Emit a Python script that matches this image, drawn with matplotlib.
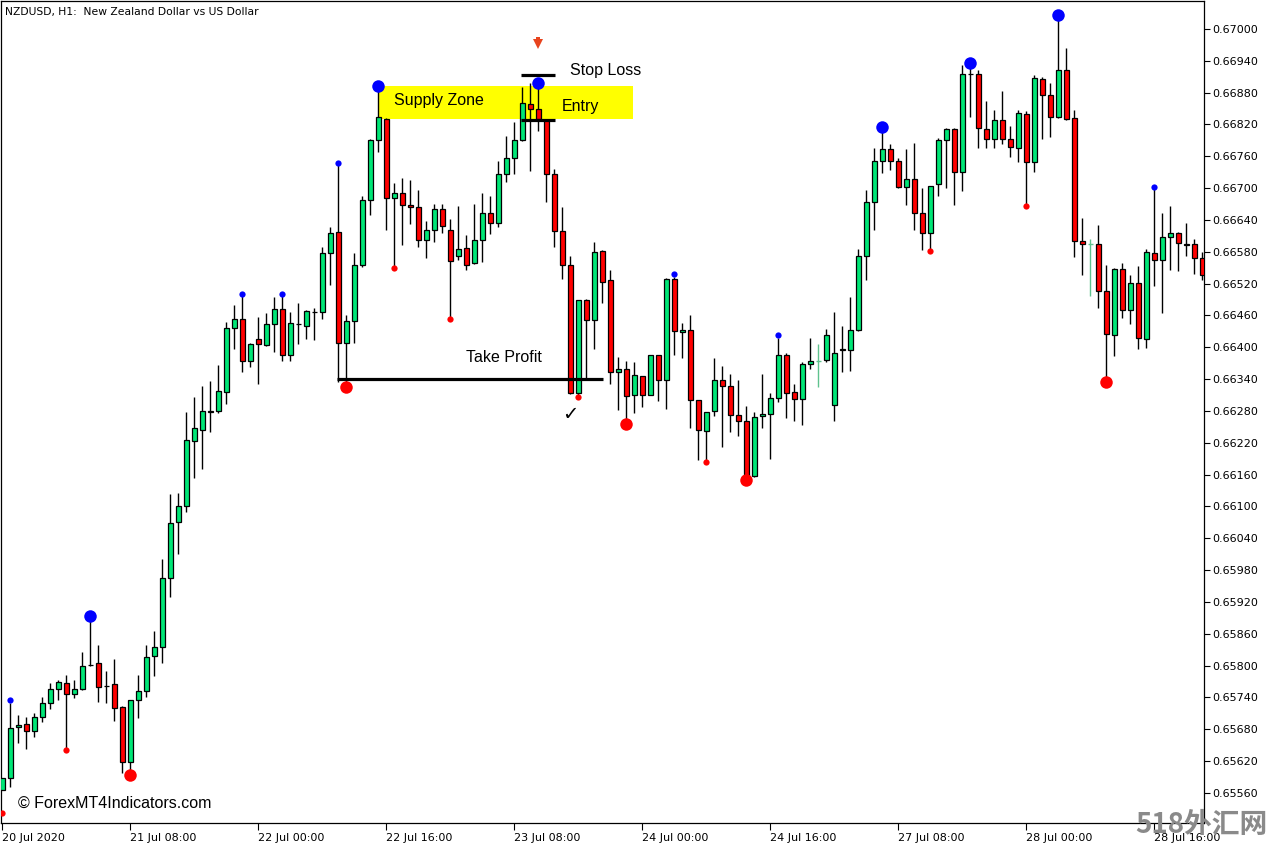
import numpy as np
import matplotlib
matplotlib.use('Agg')
import matplotlib.pyplot as plt

# NZDUSD H1 candles, one per hour (index 0 = 20 Jul 2020 00:00)
opens = [0.65566, 0.65588, 0.65684, 0.65689, 0.65676, 0.65704, 0.65729, 0.65755, 0.65767, 0.65746,
         0.65756, 0.65802, 0.65805, 0.65762, 0.65765, 0.65722, 0.65618, 0.65735, 0.65752, 0.65818,
         0.65835, 0.65965, 0.66070, 0.66100, 0.66223, 0.66245, 0.66279, 0.66279, 0.66315, 0.66436,
         0.66453, 0.66375, 0.66415, 0.66404, 0.66443, 0.66473, 0.66385, 0.66444, 0.66441, 0.66467,
         0.66466, 0.66577, 0.66617, 0.66408, 0.66449, 0.66556, 0.66677, 0.66790, 0.66831, 0.66681,
         0.66690, 0.66668, 0.66664, 0.66602, 0.66621, 0.66660, 0.66621, 0.66573, 0.66587, 0.66558,
         0.66602, 0.66653, 0.66634, 0.66726, 0.66756, 0.66790, 0.66858, 0.66849, 0.66828, 0.66726,
         0.66619, 0.66555, 0.66313, 0.66489, 0.66451, 0.66581, 0.66526, 0.66353, 0.66360, 0.66310,
         0.66345, 0.66311, 0.66385, 0.66338, 0.66528, 0.66428, 0.66432, 0.66300, 0.66242, 0.66279,
         0.66338, 0.66328, 0.66272, 0.66261, 0.66157, 0.66270, 0.66274, 0.66304, 0.66385, 0.66315,
         0.66302, 0.66368, 0.66375, 0.66377, 0.66291, 0.66396, 0.66394, 0.66432, 0.66572, 0.66673,
         0.66751, 0.66773, 0.66751, 0.66703, 0.66717, 0.66653, 0.66615, 0.66707, 0.66790, 0.66811,
         0.66730, 0.66916, 0.66915, 0.66811, 0.66792, 0.66828, 0.66792, 0.66775, 0.66839, 0.66749,
         0.66905, 0.66875, 0.66834, 0.66922, 0.66832, 0.66600, 0.66594, 0.66594, 0.66506, 0.66424,
         0.66547, 0.66470, 0.66522, 0.66415, 0.66577, 0.66564, 0.66607, 0.66615, 0.66594, 0.66594,
         0.66568]
highs = [0.65589, 0.65730, 0.65707, 0.65703, 0.65711, 0.65741, 0.65767, 0.65772, 0.65782, 0.65773,
         0.65826, 0.65886, 0.65839, 0.65790, 0.65812, 0.65723, 0.65736, 0.65782, 0.65839, 0.65865,
         0.66001, 0.66123, 0.66125, 0.66278, 0.66306, 0.66328, 0.66336, 0.66367, 0.66448, 0.66480,
         0.66497, 0.66409, 0.66457, 0.66465, 0.66494, 0.66497, 0.66466, 0.66483, 0.66470, 0.66475,
         0.66590, 0.66626, 0.66744, 0.66460, 0.66577, 0.66685, 0.66792, 0.66885, 0.66832, 0.66709,
         0.66719, 0.66715, 0.66696, 0.66639, 0.66670, 0.66670, 0.66641, 0.66666, 0.66611, 0.66670,
         0.66690, 0.66685, 0.66751, 0.66798, 0.66824, 0.66890, 0.66898, 0.66893, 0.66828, 0.66737,
         0.66664, 0.66573, 0.66489, 0.66492, 0.66598, 0.66583, 0.66545, 0.66381, 0.66374, 0.66372,
         0.66345, 0.66386, 0.66386, 0.66530, 0.66533, 0.66445, 0.66460, 0.66301, 0.66278, 0.66380,
         0.66365, 0.66350, 0.66338, 0.66289, 0.66278, 0.66349, 0.66313, 0.66418, 0.66389, 0.66330,
         0.66372, 0.66417, 0.66406, 0.66434, 0.66466, 0.66441, 0.66494, 0.66585, 0.66696, 0.66775,
         0.66808, 0.66783, 0.66756, 0.66773, 0.66785, 0.66700, 0.66705, 0.66794, 0.66813, 0.66813,
         0.66932, 0.66935, 0.66922, 0.66864, 0.66847, 0.66884, 0.66818, 0.66847, 0.66845, 0.66913,
         0.66910, 0.66898, 0.67017, 0.66964, 0.66847, 0.66643, 0.66604, 0.66630, 0.66555, 0.66549,
         0.66558, 0.66536, 0.66553, 0.66585, 0.66699, 0.66653, 0.66666, 0.66617, 0.66634, 0.66604,
         0.66579]
lows = [0.65565, 0.65571, 0.65655, 0.65642, 0.65666, 0.65694, 0.65718, 0.65735, 0.65645, 0.65738,
        0.65754, 0.65799, 0.65732, 0.65730, 0.65696, 0.65598, 0.65598, 0.65702, 0.65741, 0.65781,
        0.65804, 0.65930, 0.66011, 0.66090, 0.66154, 0.66171, 0.66240, 0.66277, 0.66294, 0.66396,
        0.66354, 0.66363, 0.66331, 0.66403, 0.66392, 0.66374, 0.66375, 0.66406, 0.66415, 0.66413,
        0.66453, 0.66517, 0.66335, 0.66333, 0.66408, 0.66551, 0.66649, 0.66769, 0.66622, 0.66553,
        0.66592, 0.66632, 0.66590, 0.66569, 0.66598, 0.66615, 0.66455, 0.66564, 0.66545, 0.66557,
        0.66560, 0.66613, 0.66626, 0.66711, 0.66726, 0.66789, 0.66732, 0.66807, 0.66673, 0.66590,
        0.66529, 0.66312, 0.66310, 0.66342, 0.66396, 0.66483, 0.66330, 0.66281, 0.66263, 0.66277,
        0.66287, 0.66310, 0.66299, 0.66284, 0.66386, 0.66380, 0.66247, 0.66188, 0.66188, 0.66270,
        0.66212, 0.66240, 0.66232, 0.66154, 0.66156, 0.66247, 0.66190, 0.66296, 0.66266, 0.66262,
        0.66253, 0.66360, 0.66326, 0.66372, 0.66262, 0.66353, 0.66355, 0.66430, 0.66526, 0.66621,
        0.66728, 0.66734, 0.66700, 0.66668, 0.66621, 0.66583, 0.66583, 0.66685, 0.66701, 0.66669,
        0.66695, 0.66835, 0.66776, 0.66776, 0.66776, 0.66783, 0.66758, 0.66749, 0.66668, 0.66730,
        0.66792, 0.66796, 0.66833, 0.66828, 0.66570, 0.66536, 0.66496, 0.66475, 0.66340, 0.66383,
        0.66455, 0.66443, 0.66396, 0.66398, 0.66515, 0.66464, 0.66545, 0.66543, 0.66573, 0.66538,
        0.66526]
closes = [0.65588, 0.65682, 0.65688, 0.65676, 0.65704, 0.65729, 0.65755, 0.65769, 0.65746, 0.65755,
          0.65799, 0.65801, 0.65759, 0.65761, 0.65721, 0.65618, 0.65735, 0.65752, 0.65816, 0.65835,
          0.65965, 0.66068, 0.66100, 0.66225, 0.66247, 0.66279, 0.66278, 0.66317, 0.66436, 0.66453,
          0.66375, 0.66406, 0.66406, 0.66443, 0.66472, 0.66385, 0.66445, 0.66443, 0.66468, 0.66466,
          0.66577, 0.66615, 0.66408, 0.66449, 0.66556, 0.66677, 0.66790, 0.66834, 0.66681, 0.66690,
          0.66668, 0.66664, 0.66602, 0.66621, 0.66660, 0.66628, 0.66562, 0.66585, 0.66555, 0.66602,
          0.66653, 0.66634, 0.66726, 0.66756, 0.66790, 0.66860, 0.66849, 0.66830, 0.66726, 0.66619,
          0.66555, 0.66313, 0.66489, 0.66451, 0.66579, 0.66524, 0.66353, 0.66360, 0.66308, 0.66347,
          0.66311, 0.66385, 0.66338, 0.66528, 0.66430, 0.66432, 0.66300, 0.66245, 0.66278, 0.66338,
          0.66328, 0.66272, 0.66261, 0.66155, 0.66268, 0.66274, 0.66304, 0.66385, 0.66313, 0.66302,
          0.66368, 0.66375, 0.66375, 0.66423, 0.66389, 0.66395, 0.66432, 0.66572, 0.66673, 0.66751,
          0.66773, 0.66751, 0.66702, 0.66717, 0.66653, 0.66615, 0.66705, 0.66790, 0.66811, 0.66730,
          0.66916, 0.66915, 0.66813, 0.66792, 0.66828, 0.66792, 0.66777, 0.66841, 0.66749, 0.66907,
          0.66875, 0.66834, 0.66922, 0.66830, 0.66600, 0.66594, 0.66594, 0.66506, 0.66426, 0.66547,
          0.66470, 0.66521, 0.66417, 0.66579, 0.66564, 0.66607, 0.66615, 0.66596, 0.66593, 0.66568,
          0.66536]
# candles drawn as thin light green crosses
light_idx = [102, 136]

# fractal dots (candle index, price)
big_blue_idx = [11, 47, 67, 110, 121, 132]
big_blue_val = [0.65893, 0.66893, 0.66899, 0.66815, 0.66936, 0.67026]
small_blue_idx = [1, 30, 35, 42, 84, 97, 144]
small_blue_val = [0.65735, 0.66500, 0.66500, 0.66747, 0.66538, 0.66423, 0.66703]
big_red_idx = [16, 43, 78, 93, 138]
big_red_val = [0.65593, 0.66326, 0.66255, 0.66149, 0.66335]
small_red_idx = [0, 8, 49, 56, 72, 88, 116, 128]
small_red_val = [0.65522, 0.65640, 0.66549, 0.66453, 0.66306, 0.66183, 0.66581, 0.66666]

# trade levels
zone_low, zone_high = 0.66830, 0.66893
stop_loss = 0.66913
entry = 0.66828
take_profit = 0.66340
sell_arrow_idx = 67
sell_arrow_val = 0.66972

x_tick_pos = [0, 16, 32, 48, 64, 80, 96, 112, 128, 144]
x_tick_labels = ['20 Jul 2020', '21 Jul 08:00', '22 Jul 00:00', '22 Jul 16:00', '23 Jul 08:00',
                 '24 Jul 00:00', '24 Jul 16:00', '27 Jul 08:00', '28 Jul 00:00', '28 Jul 16:00']
y_ticks = [0.65560, 0.65620, 0.65680, 0.65740, 0.65800, 0.65860, 0.65920, 0.65980, 0.66040,
           0.66100, 0.66160, 0.66220, 0.66280, 0.66340, 0.66400, 0.66460, 0.66520, 0.66580,
           0.66640, 0.66700, 0.66760, 0.66820, 0.66880, 0.66940, 0.67000]

GREEN = '#00e676'
RED = '#ff0000'
LIGHT = '#5fc28e'

fig = plt.figure(figsize=(12.75, 8.48), dpi=100)
ax = fig.add_axes([1 / 1275, 25 / 848, 1203 / 1275, 822 / 848])

o = np.array(opens)
h = np.array(highs)
l = np.array(lows)
c = np.array(closes)
x = np.arange(len(o))
normal = np.array([i not in light_idx for i in x])

# wicks
ax.vlines(x[normal], l[normal], h[normal], colors='black', linewidth=1.0, zorder=2)
# bodies
colors = [GREEN if cc > oo else RED for oo, cc in zip(o, c)]
bottoms = np.minimum(o, c)
heights = np.abs(c - o)
ax.bar(x[normal], heights[normal], bottom=bottoms[normal], width=0.58,
       color=np.array(colors)[normal], edgecolor='black', linewidth=0.9, zorder=3)
# light green crosses
for i in light_idx:
    ax.vlines(i, l[i], h[i], colors=LIGHT, linewidth=1.0, zorder=2)
    ax.hlines(o[i], i - 0.3, i + 0.3, colors=LIGHT, linewidth=1.0, zorder=2)

# fractal dots
ax.plot(big_blue_idx, big_blue_val, 'o', color='#0000ff', markersize=9, markeredgewidth=0, zorder=5)
ax.plot(small_blue_idx, small_blue_val, 'o', color='#0000ff', markersize=4.5, markeredgewidth=0, zorder=5)
ax.plot(big_red_idx, big_red_val, 'o', color='#ff0000', markersize=9, markeredgewidth=0, zorder=5)
ax.plot(small_red_idx, small_red_val, 'o', color='#ff0000', markersize=4.5, markeredgewidth=0, zorder=5)

# supply zone and trade lines
ax.fill_between([47.1, 78.85], zone_low, zone_high, color='#ffff00', linewidth=0, zorder=1)
ax.hlines(stop_loss, 64.85, 69.1, colors='black', linewidth=2.3, zorder=4)
ax.hlines(entry, 64.85, 69.1, colors='black', linewidth=2.3, zorder=4)
ax.hlines(take_profit, 41.85, 75.1, colors='black', linewidth=2.3, zorder=4)

# sell arrow (stem + head)
ax.plot([sell_arrow_idx], [sell_arrow_val], marker='v', color='#e8441e', markersize=7.5,
        markeredgewidth=0, zorder=6)
ax.plot([sell_arrow_idx], [sell_arrow_val + 0.0001], marker='s', color='#e8441e', markersize=3.2,
        markeredgewidth=0, zorder=6)

tf = dict(family=['Liberation Sans', 'DejaVu Sans'], fontsize=11.5, color='black', va='center', ha='left', zorder=6)
ax.text(48.96, 0.66866, 'Supply Zone', **tf)
ax.text(70.96, 0.66921, 'Stop Loss', **tf)
ax.text(69.96, 0.66853, 'Entry', **tf)
ax.text(57.96, 0.66380, 'Take Profit', **tf)
ax.text(1.96, 0.65541, '© ForexMT4Indicators.com', **tf)
ax.text(71, 0.66274, '✓', fontsize=14, color='black', ha='center', va='center', zorder=6)

ax.set_xlim(-0.1625, 150.21)
ax.set_ylim(0.655033, 0.670528)

ax.yaxis.tick_right()
ax.set_yticks(y_ticks)
ax.set_yticklabels(['%.5f' % v for v in y_ticks])
ax.set_xticks(x_tick_pos)
ax.set_xticklabels(x_tick_labels)
for lbl in ax.get_xticklabels():
    lbl.set_horizontalalignment('left')
ax.tick_params(axis='y', direction='out', length=4, width=0.8, pad=2, labelsize=8)
ax.tick_params(axis='x', direction='out', length=5, width=0.8, pad=2, labelsize=8)
for s in ax.spines.values():
    s.set_linewidth(0.9)

fig.text(5 / 1275, 1 - 12 / 848, 'NZDUSD, H1:  New Zealand Dollar vs US Dollar',
         fontsize=7.75, ha='left', va='center')
fig.text(1268 / 1275, 1 - 825 / 848, '518外汇网', fontsize=20, fontweight='bold',
         color='#8a8a8a', ha='right', va='center',
         family=['Noto Sans CJK SC', 'DejaVu Sans'], zorder=10)

fig.savefig('out.png', dpi=100)
